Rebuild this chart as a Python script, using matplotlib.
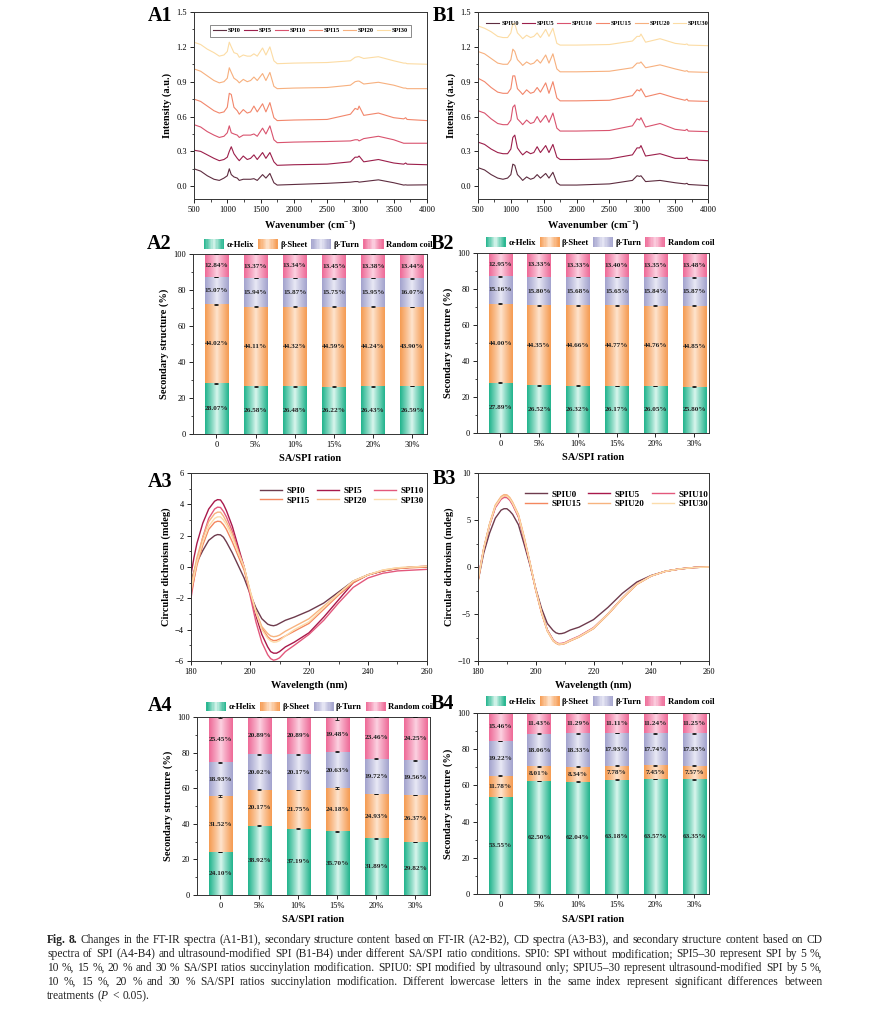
import numpy as np
import matplotlib.pyplot as plt
from matplotlib.colors import LinearSegmentedColormap
from matplotlib.patches import Rectangle
from matplotlib.legend_handler import HandlerBase
from matplotlib.ticker import MultipleLocator

plt.rcParams['font.family'] = ['Liberation Serif', 'DejaVu Serif']
plt.rcParams['mathtext.fontset'] = 'custom'
plt.rcParams['mathtext.rm'] = 'Liberation Serif'
plt.rcParams['mathtext.it'] = 'Liberation Serif:italic'
plt.rcParams['mathtext.bf'] = 'Liberation Serif:bold'

# ---------------- FT-IR spectra (A1 / B1) ----------------
wn = [500, 600, 700, 800, 880, 950, 1000, 1030, 1060, 1100, 1150, 1180, 1240, 1300, 1350,
      1400, 1450, 1530, 1580, 1640, 1700, 1750, 2000, 2500, 2850, 2920, 2960, 2980, 3050,
      3270, 3500, 3650, 3680, 3700, 4000]

spi0 = [0.15, 0.13, 0.09, 0.06, 0.05, 0.07, 0.09, 0.15, 0.10, 0.08, 0.07, 0.05, 0.06, 0.06, 0.06,
        0.065, 0.05, 0.10, 0.07, 0.11, 0.03, 0.01, 0.015, 0.025, 0.035, 0.04, 0.04, 0.035, 0.04,
        0.055, 0.03, 0.01, 0.012, 0.01, 0.012]
spi5 = [0.31, 0.30, 0.27, 0.24, 0.22, 0.23, 0.25, 0.30, 0.34, 0.28, 0.24, 0.22, 0.26, 0.23, 0.24,
        0.27, 0.23, 0.29, 0.24, 0.29, 0.21, 0.18, 0.185, 0.19, 0.21, 0.25, 0.25, 0.26, 0.21,
        0.23, 0.20, 0.19, 0.20, 0.19, 0.185]
spi10 = [0.53, 0.51, 0.47, 0.44, 0.42, 0.43, 0.46, 0.52, 0.46, 0.45, 0.44, 0.42, 0.44, 0.44, 0.44,
         0.45, 0.43, 0.50, 0.45, 0.52, 0.40, 0.375, 0.38, 0.385, 0.39, 0.40, 0.40, 0.39, 0.41,
         0.43, 0.40, 0.37, 0.37, 0.37, 0.37]
spi15 = [0.75, 0.73, 0.69, 0.65, 0.63, 0.64, 0.68, 0.80, 0.79, 0.68, 0.65, 0.62, 0.66, 0.63, 0.64,
         0.69, 0.64, 0.71, 0.64, 0.72, 0.59, 0.565, 0.57, 0.575, 0.62, 0.67, 0.66, 0.69, 0.61,
         0.63, 0.59, 0.58, 0.59, 0.575, 0.565]
spi20 = [1.01, 0.99, 0.95, 0.91, 0.89, 0.90, 0.93, 1.02, 0.98, 0.93, 0.91, 0.89, 0.92, 0.90, 0.91,
         0.94, 0.91, 0.97, 0.91, 0.98, 0.86, 0.84, 0.845, 0.85, 0.87, 0.90, 0.905, 0.905, 0.88,
         0.895, 0.87, 0.845, 0.845, 0.84, 0.84]
spi30 = [1.24, 1.22, 1.18, 1.15, 1.12, 1.13, 1.16, 1.24, 1.20, 1.15, 1.14, 1.11, 1.13, 1.12, 1.12,
         1.14, 1.12, 1.19, 1.13, 1.20, 1.08, 1.055, 1.06, 1.065, 1.08, 1.11, 1.115, 1.115, 1.10,
         1.115, 1.08, 1.06, 1.06, 1.055, 1.05]

spiu0 = [0.16, 0.14, 0.10, 0.07, 0.06, 0.07, 0.10, 0.19, 0.18, 0.10, 0.07, 0.05, 0.08, 0.06, 0.07,
         0.10, 0.07, 0.11, 0.07, 0.12, 0.03, 0.01, 0.01, 0.02, 0.05, 0.09, 0.085, 0.09, 0.04,
         0.05, 0.03, 0.02, 0.025, 0.015, 0.005]
spiu5 = [0.38, 0.36, 0.32, 0.29, 0.28, 0.28, 0.32, 0.42, 0.44, 0.33, 0.29, 0.27, 0.30, 0.28, 0.29,
         0.34, 0.29, 0.35, 0.29, 0.36, 0.25, 0.23, 0.23, 0.235, 0.27, 0.33, 0.33, 0.35, 0.26,
         0.28, 0.24, 0.24, 0.25, 0.23, 0.22]
spiu10 = [0.65, 0.63, 0.58, 0.54, 0.53, 0.53, 0.57, 0.68, 0.70, 0.58, 0.55, 0.53, 0.57, 0.54, 0.55,
          0.60, 0.55, 0.61, 0.55, 0.63, 0.50, 0.475, 0.475, 0.48, 0.52, 0.58, 0.57, 0.59, 0.51,
          0.54, 0.49, 0.48, 0.49, 0.475, 0.47]
spiu15 = [0.93, 0.90, 0.85, 0.81, 0.80, 0.80, 0.84, 0.95, 0.95, 0.84, 0.81, 0.79, 0.83, 0.80, 0.81,
          0.85, 0.81, 0.89, 0.80, 0.90, 0.76, 0.735, 0.735, 0.74, 0.78, 0.83, 0.82, 0.84, 0.77,
          0.80, 0.76, 0.74, 0.75, 0.735, 0.73]
spiu20 = [1.16, 1.14, 1.10, 1.06, 1.05, 1.05, 1.09, 1.18, 1.16, 1.09, 1.06, 1.04, 1.07, 1.05, 1.06,
          1.09, 1.06, 1.13, 1.06, 1.14, 1.01, 0.985, 0.985, 0.99, 1.02, 1.06, 1.06, 1.07, 1.02,
          1.045, 1.01, 0.99, 0.995, 0.985, 0.98]
spiu30 = [1.38, 1.36, 1.33, 1.29, 1.28, 1.28, 1.32, 1.40, 1.40, 1.32, 1.29, 1.27, 1.30, 1.28, 1.29,
          1.32, 1.28, 1.35, 1.29, 1.36, 1.23, 1.215, 1.215, 1.22, 1.25, 1.29, 1.29, 1.31, 1.24,
          1.27, 1.23, 1.22, 1.225, 1.215, 1.21]

# ---------------- CD spectra (A3 / B3) ----------------
wl = [180, 181, 182, 184, 186, 188, 189, 190, 191, 192, 194, 196, 198, 200, 202, 204, 206, 207,
      208, 209, 210, 212, 215, 220, 225, 230, 235, 240, 245, 250, 255, 260]

cd_spi0 = [-0.9, -0.3, 0.3, 1.05, 1.7, 2.0, 2.07, 2.05, 1.9, 1.6, 0.9, 0.1, -0.7, -1.7, -2.6, -3.3,
           -3.65, -3.72, -3.75, -3.7, -3.6, -3.4, -3.2, -2.8, -2.3, -1.6, -0.9, -0.5, -0.25, -0.1,
           0.0, 0.0]
cd_spi5 = [-0.5, 0.6, 1.5, 2.8, 3.7, 4.2, 4.3, 4.28, 4.0, 3.6, 2.6, 1.3, 0.0, -1.6, -3.1, -4.3,
           -5.1, -5.4, -5.5, -5.5, -5.4, -5.1, -4.8, -4.2, -3.2, -2.1, -1.0, -0.5, -0.25, -0.1,
           0.0, 0.05]
cd_spi10 = [-2.0, -0.8, 0.3, 1.9, 3.1, 3.7, 3.82, 3.8, 3.55, 3.2, 2.3, 1.1, 0.0, -1.8, -3.5, -4.8,
            -5.6, -5.85, -5.95, -5.9, -5.8, -5.4, -5.0, -4.3, -3.4, -2.3, -1.3, -0.7, -0.4, -0.25,
            -0.2, -0.15]
cd_spi15 = [-1.7, -0.8, 0.1, 1.4, 2.4, 2.85, 2.92, 2.9, 2.7, 2.4, 1.6, 0.7, -0.2, -1.6, -2.9, -3.9,
            -4.45, -4.62, -4.7, -4.68, -4.6, -4.4, -4.1, -3.6, -2.7, -1.8, -1.0, -0.5, -0.25, -0.1,
            -0.05, 0.0]
cd_spi20 = [-1.2, -0.3, 0.6, 1.9, 2.9, 3.4, 3.5, 3.5, 3.25, 2.9, 2.1, 1.0, 0.0, -1.5, -2.8, -3.8,
            -4.25, -4.4, -4.45, -4.42, -4.35, -4.1, -3.8, -3.3, -2.5, -1.7, -0.9, -0.5, -0.2, -0.05,
            0.0, 0.05]
cd_spi30 = [-1.5, -0.6, 0.3, 1.6, 2.6, 3.1, 3.2, 3.2, 3.0, 2.7, 1.9, 0.9, 0.0, -1.5, -2.9, -4.0,
            -4.55, -4.72, -4.8, -4.78, -4.7, -4.4, -4.0, -3.5, -2.6, -1.7, -0.9, -0.5, -0.2, -0.05,
            0.0, 0.05]

cd_spiu0 = [-1.5, 0.0, 1.5, 3.6, 5.2, 6.05, 6.2, 6.2, 5.95, 5.6, 4.5, 2.4, 0.2, -2.3, -4.4, -6.0,
            -6.75, -7.0, -7.1, -7.08, -7.0, -6.7, -6.4, -5.6, -4.3, -2.8, -1.6, -0.9, -0.45, -0.2,
            -0.05, 0.0]
cd_spiu5 = [-1.3, 0.4, 2.0, 4.5, 6.4, 7.3, 7.5, 7.48, 7.2, 6.7, 5.4, 3.0, 0.4, -2.4, -4.8, -6.7,
            -7.75, -8.05, -8.2, -8.18, -8.1, -7.8, -7.4, -6.5, -5.0, -3.3, -1.8, -0.95, -0.45, -0.2,
            -0.05, 0.0]
cd_spiu10 = [-1.4, 0.3, 1.9, 4.4, 6.3, 7.2, 7.4, 7.38, 7.1, 6.6, 5.3, 2.9, 0.4, -2.4, -4.8, -6.7,
             -7.75, -8.0, -8.15, -8.12, -8.05, -7.75, -7.35, -6.45, -5.0, -3.3, -1.8, -0.95, -0.45,
             -0.2, -0.05, 0.0]
cd_spiu15 = [-1.6, 0.2, 1.9, 4.5, 6.5, 7.4, 7.6, 7.58, 7.3, 6.8, 5.5, 3.1, 0.4, -2.5, -4.9, -6.8,
             -7.85, -8.1, -8.25, -8.22, -8.15, -7.85, -7.45, -6.55, -5.05, -3.35, -1.85, -0.95,
             -0.45, -0.2, -0.05, 0.0]
cd_spiu20 = [-1.5, 0.3, 2.0, 4.6, 6.6, 7.5, 7.7, 7.68, 7.4, 6.9, 5.6, 3.2, 0.5, -2.4, -4.8, -6.8,
             -7.85, -8.1, -8.25, -8.22, -8.15, -7.85, -7.45, -6.55, -5.05, -3.35, -1.85, -0.95,
             -0.45, -0.2, -0.05, 0.0]
cd_spiu30 = [-1.4, 0.3, 2.0, 4.5, 6.45, 7.35, 7.55, 7.53, 7.25, 6.75, 5.45, 3.05, 0.45, -2.4, -4.8,
             -6.75, -7.8, -8.05, -8.2, -8.18, -8.1, -7.8, -7.4, -6.5, -5.0, -3.3, -1.8, -0.95, -0.45,
             -0.2, -0.05, 0.0]

# ---------------- secondary structure (A2 / B2 / A4 / B4) ----------------
ratios = ['0', '5%', '10%', '15%', '20%', '30%']
parts = ['α-Helix', 'β-Sheet', 'β-Turn', 'Random coil']

a2_helix = [28.07, 26.58, 26.48, 26.22, 26.43, 26.59]
a2_sheet = [44.02, 44.11, 44.32, 44.59, 44.24, 43.90]
a2_turn = [15.07, 15.94, 15.87, 15.75, 15.95, 16.07]
a2_coil = [12.84, 13.37, 13.34, 13.45, 13.38, 13.44]

b2_helix = [27.89, 26.52, 26.32, 26.17, 26.05, 25.80]
b2_sheet = [44.00, 44.35, 44.66, 44.77, 44.76, 44.85]
b2_turn = [15.16, 15.80, 15.68, 15.65, 15.84, 15.87]
b2_coil = [12.95, 13.33, 13.33, 13.40, 13.35, 13.48]

a4_helix = [24.10, 38.92, 37.19, 35.70, 31.89, 29.82]
a4_sheet = [31.52, 20.17, 21.75, 24.18, 24.93, 26.37]
a4_turn = [18.93, 20.02, 20.17, 20.63, 19.72, 19.56]
a4_coil = [25.45, 20.89, 20.89, 19.48, 23.46, 24.25]

b4_helix = [53.55, 62.50, 62.04, 63.18, 63.57, 63.35]
b4_sheet = [11.78, 8.01, 8.34, 7.78, 7.45, 7.57]
b4_turn = [19.22, 18.06, 18.33, 17.93, 17.74, 17.83]
b4_coil = [15.46, 11.43, 11.29, 11.11, 11.24, 11.25]

# error bars (small, read roughly)
err_small = [0.2, 0.2, 0.2, 0.2, 0.2, 0.2]
a4_coil_err = [0.5, 0.2, 0.2, 1.5, 0.2, 0.2]
a4_sheet_err = [0.8, 0.2, 0.2, 0.6, 0.2, 0.2]

ftir_cols = ['#5e2d40', '#9c1f4b', '#d9536e', '#f2866b', '#f7b07e', '#fcdca4']
cd_cols = ['#6e3b4d', '#a8194b', '#e3587c', '#f4875f', '#f7b37f', '#fcdcab']
part_edges = ['#22b48d', '#f59b52', '#a3a3cd', '#ee6a97']
part_centres = ['#dcf7ef', '#fee5cf', '#eaeaf6', '#fcd3e2']

W, H = 869, 1009
fig = plt.figure(figsize=(W / 100, H / 100), dpi=100)


def axes_px(l, t, r, b):
    return fig.add_axes([l / W, 1 - b / H, (r - l) / W, (b - t) / H])


def style(ax):
    ax.tick_params(which='both', direction='out', top=False, right=False, labelsize=6, pad=2)
    ax.tick_params(which='major', length=3, width=0.6)
    ax.tick_params(which='minor', length=1.8, width=0.5)
    for s in ax.spines.values():
        s.set_linewidth(0.7)
        s.set_color('#333333')


def panel_label(x, y, s):
    fig.text(x / W, 1 - y / H, s, fontsize=14.5, fontweight='bold', ha='left', va='center')


def ftir(ax, series, names, framed, leg_anchor):
    for ys, c, n in zip(series, ftir_cols, names):
        ax.plot(wn, ys, color=c, lw=0.8, label=n)
    ax.set_xlim(500, 4000)
    ax.set_ylim(-0.11, 1.5)
    ax.xaxis.set_major_locator(MultipleLocator(500))
    ax.xaxis.set_minor_locator(MultipleLocator(250))
    ax.yaxis.set_minor_locator(MultipleLocator(0.15))
    ax.set_yticks([0.0, 0.3, 0.6, 0.9, 1.2, 1.5])
    ax.set_yticklabels(['0.0', '0.3', '0.6', '0.9', '1.2', '1.5'])
    ax.set_xlabel('Wavenumber (cm$^{\\mathbf{-1}}$)', fontsize=7.5, fontweight='bold', labelpad=3)
    ax.set_ylabel('Intensity (a.u.)', fontsize=7.5, fontweight='bold', labelpad=3)
    leg = ax.legend(ncol=6, loc='center', bbox_to_anchor=leg_anchor, frameon=framed,
                    handlelength=2.0, handletextpad=0.3, columnspacing=0.5,
                    borderpad=0.5, fancybox=False, prop={'weight': 'bold', 'size': 4.6})
    if framed:
        leg.get_frame().set_edgecolor('#555555')
        leg.get_frame().set_linewidth(0.6)
    style(ax)


def cd(ax, series, names, ylim, ymaj, ymin, leg_anchor):
    lines = []
    for ys, c, n in zip(series, cd_cols, names):
        lines += ax.plot(wl, ys, color=c, lw=1.0, label=n)
    ax.set_xlim(180, 260)
    ax.set_ylim(*ylim)
    ax.xaxis.set_major_locator(MultipleLocator(20))
    ax.xaxis.set_minor_locator(MultipleLocator(10))
    ax.yaxis.set_major_locator(MultipleLocator(ymaj))
    ax.yaxis.set_minor_locator(MultipleLocator(ymin))
    ax.set_xlabel('Wavelength (nm)', fontsize=7.5, fontweight='bold', labelpad=3)
    ax.set_ylabel('Circular dichroism (mdeg)', fontsize=7.5, fontweight='bold', labelpad=3)
    order = [0, 3, 1, 4, 2, 5]  # row-wise order with column-major legend filling
    ax.legend([lines[i] for i in order], [names[i] for i in order], ncol=3, loc='center',
              bbox_to_anchor=leg_anchor, frameon=False,
              handlelength=2.4, handletextpad=0.5, columnspacing=0.8, labelspacing=0.15,
              prop={'weight': 'bold', 'size': 6.6})
    style(ax)


class GradHandler(HandlerBase):
    def __init__(self, cmap):
        super().__init__()
        self.cmap = cmap

    def create_artists(self, legend, orig_handle, xdescent, ydescent, width, height, fontsize, trans):
        n = 16
        arts = []
        for i in range(n):
            v = abs((i + 0.5) / n * 2 - 1) ** 0.9
            arts.append(Rectangle((-xdescent + i * width / n, -ydescent - 1), width / n + 0.3, height + 2,
                                  facecolor=self.cmap(v), edgecolor='none', transform=trans))
        return arts


cmaps = [LinearSegmentedColormap.from_list('p%d' % i, [part_centres[i], part_edges[i]])
         for i in range(4)]
grad = np.abs(np.linspace(-1, 1, 64)) ** 0.9


def bars(ax, comps, errs, leg_anchor):
    x = np.arange(len(ratios))
    bottom = np.zeros(len(ratios))
    w = 0.6
    for k, (vals, e) in enumerate(zip(comps, errs)):
        vals = np.array(vals)
        for xi, b0, v in zip(x, bottom, vals):
            ax.imshow(grad[None, :], cmap=cmaps[k], vmin=0, vmax=1, aspect='auto',
                      extent=[xi - w / 2, xi + w / 2, b0, b0 + v], zorder=1, interpolation='bilinear')
            ax.text(xi, b0 + v / 2, '%.2f%%' % v, ha='center', va='center', fontsize=5.2,
                    fontweight='bold', color='#222222', zorder=4)
        ax.errorbar(x, bottom + vals, yerr=e, fmt='none', ecolor='#111111', elinewidth=0.6,
                    capsize=1.5, capthick=0.6, zorder=3)
        bottom = bottom + vals
    ax.set_xlim(-0.6, 5.38)
    ax.set_ylim(0, 100)
    ax.set_xticks(x)
    ax.set_xticklabels(ratios)
    ax.yaxis.set_major_locator(MultipleLocator(20))
    ax.yaxis.set_minor_locator(MultipleLocator(10))
    ax.set_xlabel('SA/SPI ration', fontsize=7.5, fontweight='bold', labelpad=4)
    ax.set_ylabel('Secondary structure (%)', fontsize=7.5, fontweight='bold', labelpad=3)
    handles = [Rectangle((0, 0), 1, 1) for _ in parts]
    hmap = {h: GradHandler(cmaps[i]) for i, h in enumerate(handles)}
    ax.legend(handles, parts, handler_map=hmap, ncol=4, loc='center', bbox_to_anchor=leg_anchor,
              frameon=False, handlelength=2.3, handleheight=0.9, handletextpad=0.3,
              columnspacing=0.45, borderaxespad=0, borderpad=0,
              prop={'weight': 'bold', 'size': 6.2})
    style(ax)


# A1 / B1
ax = axes_px(194, 12, 427, 199)
ftir(ax, [spi0, spi5, spi10, spi15, spi20, spi30],
     ['SPI0', 'SPI5', 'SPI10', 'SPI15', 'SPI20', 'SPI30'], True, (0.5, 0.9))
ax = axes_px(478, 12, 708, 199)
ftir(ax, [spiu0, spiu5, spiu10, spiu15, spiu20, spiu30],
     ['SPIU0', 'SPIU5', 'SPIU10', 'SPIU15', 'SPIU20', 'SPIU30'], False, (0.52, 0.94))

# A2 / B2
ax = axes_px(193, 254, 427, 434)
bars(ax, [a2_helix, a2_sheet, a2_turn, a2_coil], [err_small] * 4, (0.535, 1.05))
ax = axes_px(477, 253, 709, 433)
bars(ax, [b2_helix, b2_sheet, b2_turn, b2_coil], [err_small] * 4, (0.53, 1.055))

# A3 / B3
ax = axes_px(191, 473, 427, 661)
cd(ax, [cd_spi0, cd_spi5, cd_spi10, cd_spi15, cd_spi20, cd_spi30],
   ['SPI0', 'SPI5', 'SPI10', 'SPI15', 'SPI20', 'SPI30'], (-6, 6), 2, 1, (0.64, 0.88))
ax = axes_px(478, 473, 709, 661)
cd(ax, [cd_spiu0, cd_spiu5, cd_spiu10, cd_spiu15, cd_spiu20, cd_spiu30],
   ['SPIU0', 'SPIU5', 'SPIU10', 'SPIU15', 'SPIU20', 'SPIU30'], (-10, 10), 5, 2.5, (0.6, 0.86))

# A4 / B4
ax = axes_px(197, 717, 430, 895)
bars(ax, [a4_helix, a4_sheet, a4_turn, a4_coil],
     [err_small, a4_sheet_err, err_small, a4_coil_err], (0.53, 1.055))
ax = axes_px(477, 713, 709, 894)
bars(ax, [b4_helix, b4_sheet, b4_turn, b4_coil], [err_small] * 4, (0.53, 1.06))

for x, y, s in [(148, 16, 'A1'), (433, 16, 'B1'), (147, 244, 'A2'), (431, 244, 'B2'),
                (148, 482, 'A3'), (433, 479, 'B3'), (148, 706, 'A4'), (431, 704, 'B4')]:
    panel_label(x, y, s)

# caption, justified by hand
caption = [
    'Fig. 8.  Changes in the FT-IR spectra (A1-B1), secondary structure content based on FT-IR (A2-B2), CD spectra (A3-B3), and secondary structure content based on CD',
    'spectra of SPI (A4-B4) and ultrasound-modified SPI (B1-B4) under different SA/SPI ratio conditions. SPI0: SPI without modification; SPI5\u201330 represent SPI by 5 %,',
    '10 %, 15 %, 20 % and 30 % SA/SPI ratios succinylation modification. SPIU0: SPI modified by ultrasound only; SPIU5\u201330 represent ultrasound-modified SPI by 5 %,',
    '10 %, 15 %, 20 % and 30 % SA/SPI ratios succinylation modification. Different lowercase letters in the same index represent significant differences between',
    'treatments ($\\mathit{P}$ < 0.05).',
]
line_y = [940, 954, 968, 982, 996]
x_left, x_right = 47, 822
renderer = fig.canvas.get_renderer()
fs = 8.3
for i, (line, y) in enumerate(zip(caption, line_y)):
    words = line.split()
    texts = []
    for j, wd in enumerate(words):
        bold = i == 0 and j < 2
        t = fig.text(0, 1 - y / H, wd, fontsize=fs, ha='left', va='center',
                     fontweight='bold' if bold else 'normal', color='#222222')
        texts.append(t)
    widths = [t.get_window_extent(renderer).width for t in texts]
    if i < len(caption) - 1:
        gap = (x_right - x_left - sum(widths)) / (len(words) - 1)
    else:
        gap = fs * 0.33
    xp = x_left
    for t, wdt in zip(texts, widths):
        t.set_x(xp / W)
        xp += wdt + gap

fig.savefig('out.png', dpi=100)
